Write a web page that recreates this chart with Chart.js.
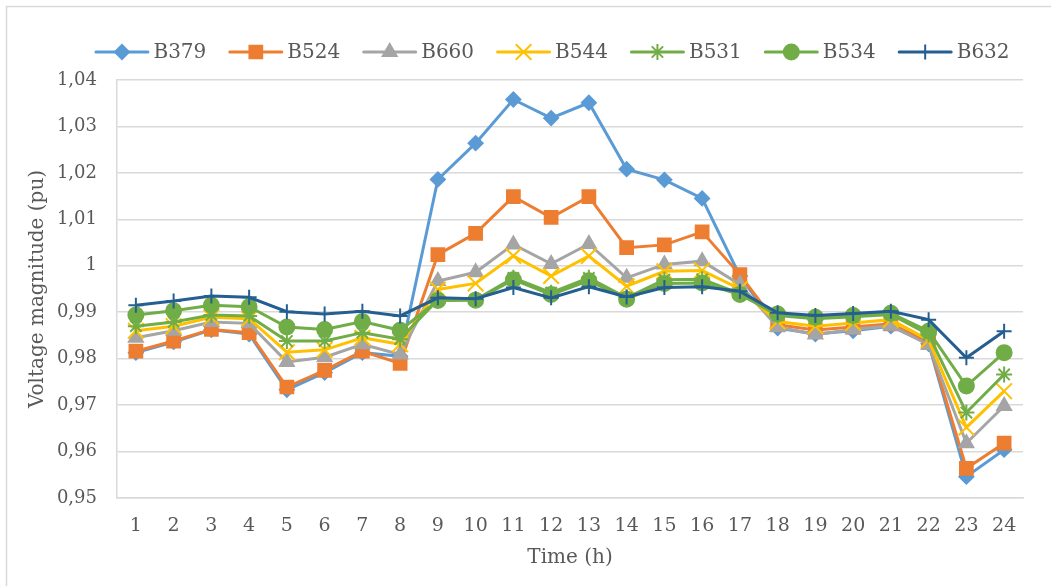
<!DOCTYPE html>
<html>
<head>
<meta charset="utf-8">
<script src="https://cdn.jsdelivr.net/npm/chart.js@4/dist/chart.umd.min.js"></script>
<style>
  html, body { margin: 0; padding: 0; background: #fff; }
  canvas { display: block; }
</style>
</head>
<body>
<canvas id="myChart" width="1051" height="586"></canvas>
<script>
const hours = ['1','2','3','4','5','6','7','8','9','10','11','12','13','14','15','16','17','18','19','20','21','22','23','24'];

const b379 = [0.9813, 0.9836, 0.9862, 0.9853, 0.9733, 0.9770, 0.9813, 0.9805, 1.0186, 1.0264, 1.0358, 1.0318, 1.0351, 1.0208, 1.0185, 1.0145, 0.9978, 0.9866, 0.9853, 0.9860, 0.9870, 0.9832, 0.9546, 0.9604];
const b524 = [0.9816, 0.9838, 0.9863, 0.9856, 0.9739, 0.9775, 0.9816, 0.9790, 1.0024, 1.0070, 1.0149, 1.0104, 1.0149, 1.0039, 1.0045, 1.0073, 0.9981, 0.9873, 0.9862, 0.9868, 0.9875, 0.9835, 0.9564, 0.9618];
const b660 = [0.9845, 0.9860, 0.9879, 0.9876, 0.9793, 0.9803, 0.9831, 0.9809, 0.9967, 0.9986, 1.0046, 1.0004, 1.0047, 0.9974, 1.0003, 1.0010, 0.9960, 0.9868, 0.9852, 0.9863, 0.9871, 0.9830, 0.9618, 0.9698];
const b544 = [0.9860, 0.9870, 0.9889, 0.9886, 0.9814, 0.9819, 0.9845, 0.9831, 0.9949, 0.9962, 1.0021, 0.9978, 1.0021, 0.9956, 0.9988, 0.9990, 0.9950, 0.9880, 0.9870, 0.9877, 0.9884, 0.9840, 0.9652, 0.9730];
const b531 = [0.9870, 0.9879, 0.9894, 0.9892, 0.9838, 0.9838, 0.9856, 0.9842, 0.9927, 0.9927, 0.9974, 0.9942, 0.9974, 0.9931, 0.9970, 0.9971, 0.9940, 0.9893, 0.9886, 0.9890, 0.9895, 0.9852, 0.9684, 0.9766];
const b534 = [0.9894, 0.9903, 0.9915, 0.9912, 0.9868, 0.9863, 0.9880, 0.9861, 0.9925, 0.9926, 0.9970, 0.9938, 0.9968, 0.9928, 0.9962, 0.9963, 0.9938, 0.9896, 0.9889, 0.9893, 0.9898, 0.9859, 0.9741, 0.9813];
const b632 = [0.9915, 0.9924, 0.9935, 0.9932, 0.9901, 0.9896, 0.9902, 0.9892, 0.9931, 0.9929, 0.9953, 0.9931, 0.9955, 0.9933, 0.9953, 0.9955, 0.9945, 0.9899, 0.9893, 0.9897, 0.9902, 0.9884, 0.9802, 0.9859];

const yMin = 0.95;
const yMax = 1.04;
const yStep = 0.01;

const textColor = '#595959';
const gridColor = '#d9d9d9';
const serif = '"DejaVu Serif", "Liberation Serif", serif';

function series(label, data, color, style, radius, borderWidth) {
  return {
    label: label,
    data: data,
    borderColor: color,
    backgroundColor: color,
    borderWidth: 3,
    pointStyle: style,
    pointRadius: radius,
    pointBorderWidth: borderWidth,
    pointBackgroundColor: color,
    pointBorderColor: color,
    tension: 0,
  };
}

const datasets = [
  series('B379', b379, '#5b9bd5', 'rectRot', 7, 2),
  series('B524', b524, '#ed7d31', 'rect', 9, 2),
  series('B660', b660, '#a5a5a5', 'triangle', 8, 2),
  series('B544', b544, '#ffc000', 'crossRot', 11, 2),
  series('B531', b531, '#70ad47', 'star', 8, 2),
  series('B534', b534, '#70ad47', 'circle', 7.5, 2),
  series('B632', b632, '#255e91', 'cross', 7.5, 2),
];
// later series sit on top, like the original
datasets.forEach((ds, i) => { ds.order = datasets.length - 1 - i; });

const frame = {
  id: 'frame',
  beforeDraw(chart) {
    const ctx = chart.ctx;
    ctx.save();
    ctx.fillStyle = '#fff';
    ctx.fillRect(0, 0, chart.width, chart.height);
    ctx.strokeStyle = gridColor;
    ctx.lineWidth = 1.5;
    ctx.strokeRect(6.5, 6.5, chart.width + 10, chart.height + 10);
    ctx.restore();
  },
};

// legend entries drawn as line + marker, as in the source chart
const lineLegend = {
  id: 'lineLegend',
  afterDraw(chart) {
    const ctx = chart.ctx;
    const lineW = 55, gap = 4, space = 22, cx = 552, cy = 52;
    ctx.save();
    ctx.font = '20px ' + serif;
    const widths = chart.data.datasets.map(ds => lineW + gap + ctx.measureText(ds.label).width);
    const total = widths.reduce((a, b) => a + b, 0) + space * (widths.length - 1);
    let x = cx - total / 2;
    chart.data.datasets.forEach((ds, i) => {
      ctx.strokeStyle = ds.borderColor;
      ctx.fillStyle = ds.borderColor;
      ctx.lineWidth = 3;
      ctx.lineCap = 'round';
      ctx.beginPath();
      ctx.moveTo(x + 1.5, cy);
      ctx.lineTo(x + lineW - 1.5, cy);
      ctx.stroke();
      ctx.lineCap = 'butt';
      ctx.lineWidth = ds.pointBorderWidth;
      Chart.helpers.drawPoint(ctx, {
        pointStyle: ds.pointStyle,
        radius: ds.pointRadius,
        rotation: 0,
        borderWidth: ds.pointBorderWidth,
      }, x + lineW / 2, cy);
      ctx.fillStyle = textColor;
      ctx.textBaseline = 'middle';
      ctx.textAlign = 'left';
      ctx.fillText(ds.label, x + lineW + gap, cy + 1);
      x += widths[i] + space;
    });
    ctx.restore();
  },
};

const ctx = document.getElementById('myChart').getContext('2d');

const chart = new Chart(ctx, {
  type: 'line',
  data: {
    labels: hours,
    datasets: datasets,
  },
  plugins: [frame, lineLegend],
  options: {
    responsive: false,
    animation: false,
    layout: {
      padding: { left: 10, right: 28, top: 80, bottom: 10 },
    },
    plugins: {
      legend: { display: false },
      tooltip: { enabled: false },
    },
    scales: {
      x: {
        offset: true,
        grid: { display: false, drawTicks: false },
        border: { display: true, color: gridColor, width: 1.5 },
        ticks: {
          color: textColor,
          font: { family: serif, size: 19 },
          padding: 17,
          maxRotation: 0,
          autoSkip: false,
        },
        title: {
          display: true,
          text: 'Time (h)',
          color: textColor,
          font: { family: serif, size: 20 },
          padding: { top: 0, bottom: 6 },
        },
        afterFit(scale) {
          scale.height = 78;
        },
      },
      y: {
        min: yMin,
        max: yMax,
        grid: { color: gridColor, lineWidth: 1.5, drawTicks: false },
        border: { display: true, color: gridColor, width: 1.5 },
        ticks: {
          stepSize: yStep,
          color: textColor,
          font: { family: serif, size: 18 },
          padding: 20,
          callback: function (value) {
            return Number(value.toFixed(2)).toString().replace('.', ',');
          },
        },
        title: {
          display: true,
          text: 'Voltage magnitude (pu)',
          color: textColor,
          font: { family: serif, size: 20 },
          padding: { top: 16, bottom: 0 },
        },
        afterFit(scale) {
          scale.width = 107;
        },
      },
    },
  },
});
</script>
</body>
</html>
